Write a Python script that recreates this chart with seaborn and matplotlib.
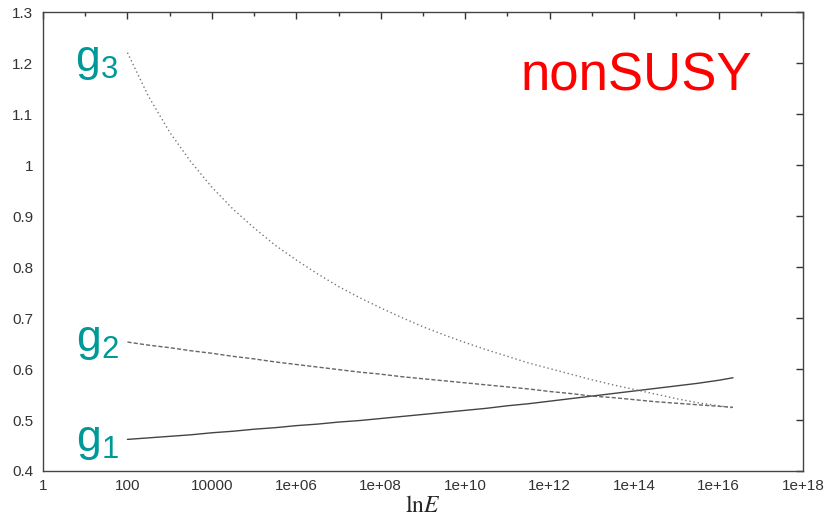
import matplotlib
matplotlib.use('Agg')
import matplotlib.pyplot as plt
import seaborn as sns
import pandas as pd
from matplotlib.ticker import FixedLocator, FixedFormatter, NullFormatter

# energie-punkter (hver halve dekade fra 100 til slutpunktet)
energy = [1e2, 3.16e2, 1e3, 3.16e3, 1e4, 3.16e4, 1e5, 3.16e5, 1e6, 3.16e6,
          1e7, 3.16e7, 1e8, 3.16e8, 1e9, 3.16e9, 1e10, 3.16e10, 1e11, 3.16e11,
          1e12, 3.16e12, 1e13, 3.16e13, 1e14, 3.16e14, 1e15, 3.16e15, 1e16, 2.2e16]

# koblingskonstanter
g1 = [0.462, 0.465, 0.468, 0.471, 0.475, 0.478, 0.482, 0.485, 0.489, 0.492,
      0.496, 0.499, 0.503, 0.507, 0.511, 0.515, 0.519, 0.523, 0.528, 0.532,
      0.537, 0.542, 0.547, 0.552, 0.557, 0.562, 0.567, 0.572, 0.578, 0.583]
g2 = [0.653, 0.647, 0.642, 0.636, 0.631, 0.625, 0.620, 0.614, 0.609, 0.604,
      0.599, 0.594, 0.590, 0.585, 0.581, 0.577, 0.573, 0.569, 0.565, 0.561,
      0.556, 0.552, 0.547, 0.544, 0.540, 0.536, 0.533, 0.530, 0.527, 0.525]
g3 = [1.221, 1.135, 1.065, 1.007, 0.957, 0.914, 0.877, 0.843, 0.814, 0.787,
      0.762, 0.740, 0.720, 0.701, 0.683, 0.667, 0.652, 0.638, 0.625, 0.612,
      0.601, 0.590, 0.579, 0.569, 0.560, 0.551, 0.542, 0.534, 0.528, 0.524]

xtick_vals = [1e0, 1e2, 1e4, 1e6, 1e8, 1e10, 1e12, 1e14, 1e16, 1e18]
xtick_labels = ['1', '100', '10000', '1e+06', '1e+08', '1e+10',
                '1e+12', '1e+14', '1e+16', '1e+18']
yticks = [0.4, 0.5, 0.6, 0.7, 0.8, 0.9, 1.0, 1.1, 1.2, 1.3]
ytick_labels = ['0.4', '0.5', '0.6', '0.7', '0.8', '0.9', '1', '1.1', '1.2', '1.3']

df = pd.DataFrame({
    'E': energy * 3,
    'g': g1 + g2 + g3,
    'coupling': ['g1'] * len(g1) + ['g2'] * len(g2) + ['g3'] * len(g3),
})

sns.set_style('white')
plt.rcParams['font.family'] = ['Liberation Sans', 'DejaVu Sans']
plt.rcParams['mathtext.fontset'] = 'stix'

fig = plt.figure(figsize=(8.27, 5.17), dpi=100)
ax = fig.add_axes([0.052, 0.089, 0.919, 0.887])

sns.lineplot(data=df, x='E', y='g', hue='coupling', style='coupling',
             palette={'g1': '#444444', 'g2': '#666666', 'g3': '#777777'},
             dashes={'g1': '', 'g2': (3, 1.5), 'g3': (1, 2)},
             linewidth=1.0, legend=False, ax=ax)

ax.set_xscale('log')
ax.set_xlim(1, 1e18)
ax.set_ylim(0.4, 1.3)
ax.xaxis.set_major_locator(FixedLocator(xtick_vals))
ax.xaxis.set_major_formatter(FixedFormatter(xtick_labels))
ax.xaxis.set_minor_locator(FixedLocator([10.0 ** k for k in range(1, 18, 2)]))
ax.xaxis.set_minor_formatter(NullFormatter())
ax.set_yticks(yticks)
ax.set_yticklabels(ytick_labels)

ax.tick_params(which='both', direction='in', top=True, right=True,
               colors='#333333', labelsize=11)
ax.tick_params(which='major', length=5, width=1)
ax.tick_params(which='minor', length=3, width=1)
ax.tick_params(axis='y', pad=7)
ax.tick_params(axis='x', pad=6)
for s in ax.spines.values():
    s.set_color('#444444')
    s.set_linewidth(1)

ax.set_xlabel(r'$\mathrm{ln}E$', fontsize=17, labelpad=1)
ax.set_ylabel('')

teal = '#009999'
ax.text((97 - 43) / 760, (471 - 62) / 458.5, r'$\mathregular{g_3}$',
        transform=ax.transAxes, color=teal, fontsize=32,
        ha='center', va='center')
ax.text((97 - 43) / 760, (471 - 342) / 458.5, r'$\mathregular{g_2}$',
        transform=ax.transAxes, color=teal, fontsize=32,
        ha='center', va='center')
ax.text((97 - 43) / 760, (471 - 442) / 458.5, r'$\mathregular{g_1}$',
        transform=ax.transAxes, color=teal, fontsize=32,
        ha='center', va='center')
ax.text((636 - 43) / 760, (471 - 77) / 458.5, 'nonSUSY',
        transform=ax.transAxes, color='#ff0000', fontsize=38,
        ha='center', va='center')

fig.savefig('out.png', dpi=100)
plt.close(fig)
